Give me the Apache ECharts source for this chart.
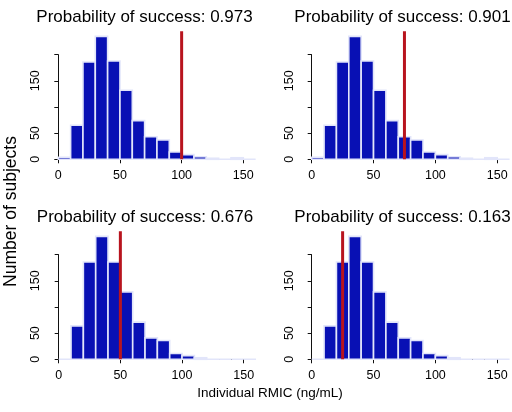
<!DOCTYPE html>
<html>
<head>
<meta charset="utf-8">
<script src="https://cdn.jsdelivr.net/npm/echarts@6/dist/echarts.min.js"></script>
<style>
html,body{margin:0;padding:0;background:#fff;}
#c{width:512px;height:412px;}
</style>
</head>
<body>
<div id="c"></div>
<script>
// ---- data ----
const binEdges = [0,10,20,30,40,50,60,70,80,90,100,110,120,130,140,150,160];
const countsTop =    [4,65,186,235,188,132,74,43,37,14,9,5,2,0,3,0];
const countsBottom = [0,64,186,235,186,129,71,41,36,11,7,3,0,0,0,0];
const thresholds = [100, 75, 50, 25];
const probabilities = ['0.973', '0.901', '0.676', '0.163'];
const titles = probabilities.map(p => 'Probability of success: ' + p);
const xTicks = [0, 50, 100, 150];
const yTicksShown = [0, 50, 150];
const lineTop = 245;
const xLabel = 'Individual RMIC (ng/mL)';
const yLabel = 'Number of subjects';

// ---- layout ----
const FONT = 'Liberation Sans, Arial, Helvetica, sans-serif';
const panels = [
  {left: 58.3, top: 54.7, width: 185, height: 104.6, yOff: 8.3, counts: countsTop, tx: 139.5, ty: 3.5},
  {left: 311.7, top: 54.7, width: 185.5, height: 104.6, yOff: 7.4, counts: countsTop, tx: 397.5, ty: 3.5},
  {left: 58.7, top: 254.7, width: 185, height: 104.6, yOff: 8.3, counts: countsBottom, tx: 140, ty: 203.5},
  {left: 311.7, top: 254.7, width: 185.5, height: 104.6, yOff: 7.4, counts: countsBottom, tx: 397.5, ty: 203.5}
];

const grid = [], xAxis = [], yAxis = [], series = [], title = [];
panels.forEach((p, i) => {
  grid.push({left: p.left, top: p.top, width: p.width, height: p.height, containLabel: false});
  xAxis.push({
    type: 'value', gridIndex: i, min: 0, max: 150, interval: 50, offset: 5,
    axisLine: {show: true, lineStyle: {color: '#111', width: 1}},
    axisTick: {show: true, length: 4, lineStyle: {color: '#111'}},
    axisLabel: {show: true, margin: 5, fontSize: 12.5, color: '#000', fontFamily: FONT,
      formatter: v => xTicks.includes(v) ? String(v) : ''},
    splitLine: {show: false}
  });
  yAxis.push({
    type: 'value', gridIndex: i, min: 0, max: 200, interval: 50, offset: p.yOff,
    axisLine: {show: true, lineStyle: {color: '#111', width: 1}},
    axisTick: {show: true, length: 4, lineStyle: {color: '#111'}},
    axisLabel: {show: true, rotate: 90, margin: 8, fontSize: 12.5, color: '#000', fontFamily: FONT,
      formatter: v => yTicksShown.includes(v) ? String(v) : ''},
    splitLine: {show: false}
  });
  const bins = p.counts.map((c, k) => [binEdges[k], binEdges[k + 1], c]);
  series.push({
    type: 'custom', xAxisIndex: i, yAxisIndex: i, clip: false, silent: true,
    data: bins,
    renderItem: (params, api) => {
      const a = api.coord([api.value(0), 0]);
      const b = api.coord([api.value(1), api.value(2)]);
      return {
        type: 'rect',
        shape: {x: a[0], y: b[1], width: b[0] - a[0], height: a[1] - b[1]},
        style: {fill: '#0810B4', stroke: '#E2E5FA', lineWidth: 1.6}
      };
    }
  });
  series.push({
    type: 'line', xAxisIndex: i, yAxisIndex: i, clip: false, silent: true,
    symbol: 'none', z: 5,
    data: [[thresholds[i], 0], [thresholds[i], lineTop]],
    lineStyle: {color: '#B8141E', width: 3}
  });
  title.push({
    text: titles[i], left: p.tx, top: p.ty, textAlign: 'center',
    textStyle: {fontSize: 17, fontWeight: 'normal', color: '#000', fontFamily: FONT}
  });
});

const chart = echarts.init(document.getElementById('c'), null, {renderer: 'canvas'});
chart.setOption({
  animation: false,
  backgroundColor: '#fff',
  title, grid, xAxis, yAxis, series,
  graphic: [
    {type: 'text', x: 270, y: 393, style: {text: xLabel, fontSize: 13.5, fontFamily: FONT, fill: '#000', align: 'center', verticalAlign: 'middle'}},
    {type: 'text', x: 11, y: 211.5, rotation: Math.PI / 2, style: {text: yLabel, fontSize: 17.5, fontFamily: FONT, fill: '#000', align: 'center', verticalAlign: 'middle'}}
  ]
});
</script>
</body>
</html>
